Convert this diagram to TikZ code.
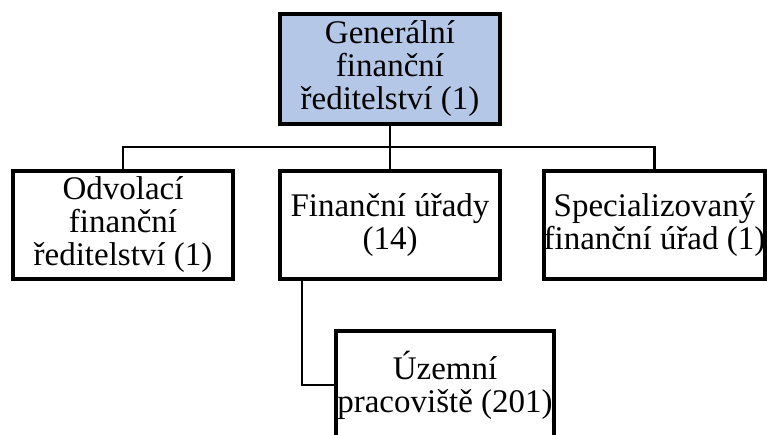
\documentclass[tikz,border=0pt]{standalone}
\usepackage{fontspec}
\setmainfont{Liberation Serif}
\definecolor{boxblue}{HTML}{B4C7E7}
\begin{document}
\begin{tikzpicture}[x=1pt,y=-1pt,
  orgbox/.style={draw=black, line width=4pt, fill=white, align=center,
    font=\fontsize{33}{33}\selectfont, inner sep=0pt, minimum width=220pt, minimum height=108pt},
  link/.style={draw=black, line width=2.5pt}]
\useasboundingbox (0,0) rectangle (767,434);
\node[orgbox, fill=boxblue, minimum height=110pt] (gfr) at (390,69) {Generální\\finanční\\ředitelství (1)};
\node[orgbox] (ofr) at (123,225) {Odvolací\\finanční\\ředitelství (1)};
\node[orgbox] (fu) at (390,225) {Finanční úřady\\(14)};
\node[orgbox, minimum width=217pt] (sfu) at (654.5,225) {Specializovaný\\finanční úřad (1)};
\node[orgbox, minimum width=218pt] (up) at (445,385) {Územní\\pracoviště (201)};
\coordinate (bus) at (390,147);
\coordinate (side) at (302,300);
\draw[link] (gfr.south) -- (fu.north);
\draw[link] (ofr.north) |- (bus) -| (sfu.north);
\draw[link] (side |- fu.south) |- (up.west);
\end{tikzpicture}
\end{document}
